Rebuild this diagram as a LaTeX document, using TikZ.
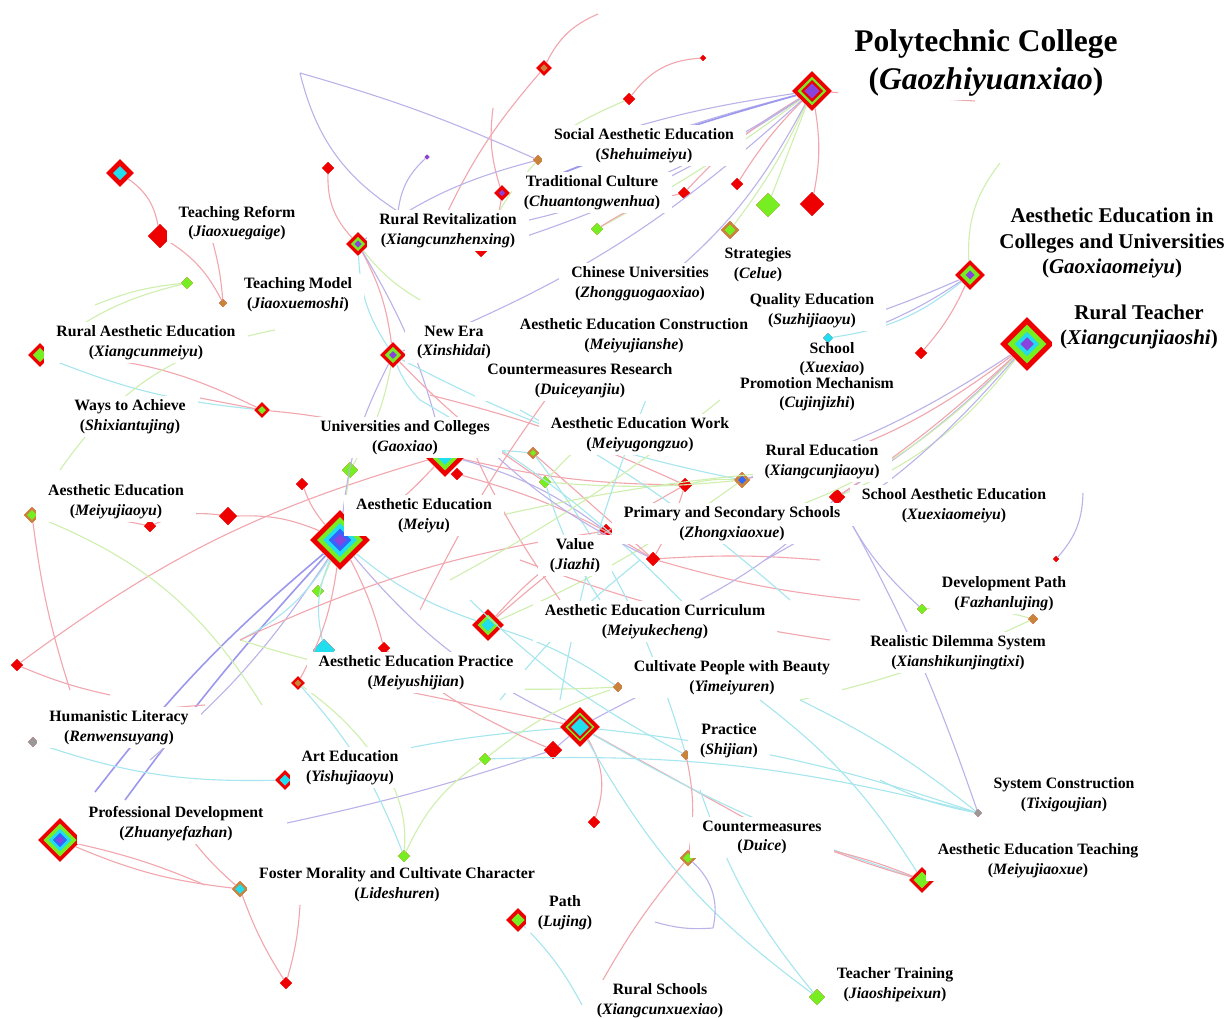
\documentclass[tikz,border=0pt]{standalone}
\usepackage{fontspec}
\setmainfont{Liberation Serif}
\usetikzlibrary{shapes.geometric}
\definecolor{kr}{HTML}{EE0000}
\definecolor{kg}{HTML}{77EE22}
\definecolor{kc}{HTML}{22DDEE}
\definecolor{kb}{HTML}{3366FF}
\definecolor{kp}{HTML}{8844DD}
\definecolor{ko}{HTML}{C8843A}
\definecolor{kgr}{HTML}{999999}
\definecolor{cer}{HTML}{F2A6AE}
\definecolor{cep}{HTML}{BBB2EA}
\definecolor{ceg}{HTML}{CFEFAE}
\definecolor{cec}{HTML}{A6E6EE}
\definecolor{ceb}{HTML}{9C98EE}
\tikzset{
  kwd/.style={diamond, inner sep=0pt, draw=none, fill=kr},
  lbl/.style={fill=white, inner xsep=12pt, inner ysep=3.5pt, align=center,
    font=\fontsize{15.8}{19.5}\selectfont\bfseries},
  lblb/.style={lbl, inner xsep=8pt, font=\fontsize{21}{25.5}\selectfont\bfseries},
  lblt/.style={lbl, inner xsep=16pt, font=\fontsize{31.5}{38}\selectfont\bfseries},
  tight/.style={inner ysep=0pt},
  er/.style={draw=cer, line width=1.1pt},
  ep/.style={draw=cep, line width=1.1pt},
  eg/.style={draw=ceg, line width=1.1pt},
  ec/.style={draw=cec, line width=1.1pt},
  eb/.style={draw=ceb, line width=1.6pt},
}
\newcommand\kwglyph[5]{%
  \node[kwd, minimum size=#4pt] (#1) at (#2,#3) {};
  \foreach \s/\c in {#5}{\pgfmathsetmacro\rr{#4*\s/2}%
    \fill[\c] (#2,#3) ++(0,\rr) -- ++(\rr,-\rr) -- ++(-\rr,-\rr) -- ++(-\rr,\rr) -- cycle;}}
\newcommand\kwlab[6][]{\node[lbl,#1] (#2) at (#3,#4) {#5\\(\textit{#6})};}
\begin{document}
\begin{tikzpicture}[x=1pt,y=-1pt]
\useasboundingbox (0,0) rectangle (1228,1017);
\fill[white] (0,0) rectangle (1228,1017);
% ---------- glyph nodes ----------
\kwglyph{P}{812}{91}{40}{0.72/kg,0.55/kr,0.38/kp}
\kwglyph{RT}{1027}{344}{54}{0.72/kg,0.45/kc,0.25/kp}
\kwglyph{AEC}{970}{275}{30}{0.66/kg,0.3/kp}
\kwglyph{M}{340}{540}{60}{0.76/kg,0.56/kc,0.38/kb,0.2/kp}
\kwglyph{G}{445}{455}{44}{0.7/kg,0.45/kc}
\kwglyph{C}{580}{727}{40}{0.72/kg,0.6/kr,0.45/kc}
\kwglyph{PD}{60}{840}{44}{0.75/kg,0.52/kc,0.32/kb,0.16/kp}
\kwglyph{CU}{488}{625}{32}{0.65/kg,0.4/kc}
\kwglyph{RR}{358}{244}{24}{0.6/kg,0.3/kp}
\kwglyph{NE}{393}{355}{26}{0.62/kg,0.3/kp}
\kwglyph{RA}{40}{355}{24}{0.6/kg}
\kwglyph{TR}{160}{236}{24}{1/kr}
\kwglyph{TT}{120}{173}{28}{0.5/kc}
\kwglyph{PA}{518}{920}{24}{0.55/kg}
\kwglyph{AT}{922}{880}{26}{0.65/kg}
\kwglyph{n1}{544}{68}{16}{0.45/ko}
\kwglyph{n2}{629}{99}{12}{1/kr}
\kwglyph{n4}{481}{251}{12}{1/kr}
\kwglyph{n5}{684}{193}{12}{1/kr}
\kwglyph{n6}{737}{184}{12}{1/kr}
\kwglyph{n7}{812}{204}{24}{1/kr}
\kwglyph{n8}{768}{205}{24}{1/kg}
\kwglyph{n9}{730}{230}{18}{1/ko,0.6/kg}
\kwglyph{n10}{597}{229}{12}{1/kg}
\kwglyph{n11}{427}{157}{5}{1/kp}
\kwglyph{n12}{538}{160}{10}{1/ko}
\kwglyph{n13}{703}{58}{6}{1/kr}
\kwglyph{n14}{502}{193}{16}{0.4/kp}
\kwglyph{n15}{328}{168}{12}{1/kr}
\kwglyph{n16}{187}{283}{12}{1/kg}
\kwglyph{n17}{223}{303}{8}{1/ko}
\kwglyph{n18}{921}{353}{12}{1/kr}
\kwglyph{n19}{828}{338}{10}{1/kc}
\kwglyph{n21}{262}{410}{16}{0.5/kg}
\kwglyph{n22}{350}{470}{16}{1/kg}
\kwglyph{n23}{302}{484}{12}{1/kr}
\kwglyph{n24}{228}{516}{18}{1/kr}
\kwglyph{n25}{150}{526}{12}{1/kr}
\kwglyph{n26}{32}{515}{16}{1/ko,0.6/kg}
\kwglyph{n27}{17}{665}{12}{1/kr}
\kwglyph{n28}{318}{591}{12}{1/kg}
\kwglyph{n29}{324}{650}{22}{1/kc}
\kwglyph{n30}{384}{648}{12}{1/kr}
\kwglyph{n31}{298}{683}{14}{0.5/ko}
\kwglyph{n32}{33}{742}{10}{1/kgr}
\kwglyph{n33}{285}{780}{20}{0.55/kc}
\kwglyph{n34}{240}{889}{16}{1/ko,0.6/kc}
\kwglyph{n35}{286}{983}{12}{1/kr}
\kwglyph{n36}{404}{856}{12}{1/kg}
\kwglyph{n37}{485}{759}{12}{1/kg}
\kwglyph{n38}{553}{750}{18}{1/kr}
\kwglyph{n39}{594}{822}{12}{1/kr}
\kwglyph{n41}{688}{858}{16}{1/ko,0.6/kg}
\kwglyph{n42}{686}{755}{10}{1/ko}
\kwglyph{n43}{618}{687}{10}{1/ko}
\kwglyph{n44}{817}{997}{16}{1/kg}
\kwglyph{n45}{545}{482}{12}{1/kg}
\kwglyph{n46}{533}{453}{12}{1/ko,0.5/kg}
\kwglyph{n47}{685}{485}{14}{1/kr}
\kwglyph{n48}{653}{559}{14}{1/kr}
\kwglyph{n49}{742}{480}{16}{1/ko,0.5/kb}
\kwglyph{n50}{606}{531}{14}{1/kr}
\kwglyph{n51}{837}{497}{16}{1/kr}
\kwglyph{n52}{1056}{559}{6}{1/kr}
\kwglyph{n53}{1033}{619}{10}{1/ko}
\kwglyph{n54}{922}{609}{10}{1/kg}
\kwglyph{n55}{978}{813}{8}{1/kgr}
\kwglyph{n56}{457}{474}{12}{1/kr}
% ---------- free ends ----------
\coordinate (t1) at (598,14);
\coordinate (c1) at (440,228);
\coordinate (c2) at (548,142);
\coordinate (c3) at (545,180);
\coordinate (c4) at (640,300);
\coordinate (pr) at (975,101);
\coordinate (v1) at (300,73);
\coordinate (v2) at (402,214);
\coordinate (c5) at (398,212);
\coordinate (c6) at (493,108);
\coordinate (c9) at (213,243);
\coordinate (c10) at (95,305);
\coordinate (c11) at (420,300);
\coordinate (c12) at (200,398);
\coordinate (c13) at (110,695);
\coordinate (lb1) at (95,792);
\coordinate (lb2) at (125,800);
\coordinate (c14) at (150,760);
\coordinate (c15) at (70,690);
\coordinate (c16) at (262,705);
\coordinate (c17) at (60,470);
\coordinate (c18) at (275,330);
\coordinate (c19) at (205,885);
\coordinate (c20) at (300,905);
\coordinate (c21) at (185,830);
\coordinate (c22) at (205,705);
\coordinate (c23) at (287,823);
\coordinate (c24) at (720,662);
\coordinate (c27) at (400,690);
\coordinate (c28) at (770,832);
\coordinate (c29) at (395,790);
\coordinate (c30) at (610,690);
\coordinate (c31) at (700,535);
\coordinate (c32) at (765,560);
\coordinate (c33) at (880,325);
\coordinate (c33b) at (870,315);
\coordinate (ga) at (1000,163);
\coordinate (dp) at (1083,493);
\coordinate (c34) at (830,850);
\coordinate (sh1) at (655,922);
\coordinate (sh2) at (713,928);
\coordinate (rs) at (600,985);
\coordinate (pb) at (582,1005);
\coordinate (c35) at (700,790);
\coordinate (c36) at (800,700);
\coordinate (c37) at (760,700);
\coordinate (c38) at (820,560);
\coordinate (c39) at (420,400);
\coordinate (c40) at (700,620);
\coordinate (c41) at (520,560);
\coordinate (c42) at (830,640);
\coordinate (c43) at (470,600);
\coordinate (c44) at (240,640);
\coordinate (c45) at (620,420);
\coordinate (c46) at (880,780);
\coordinate (c47) at (430,395);
\coordinate (c48) at (600,600);
\coordinate (c49) at (480,520);
\coordinate (c50) at (800,470);
\coordinate (c51) at (420,610);
\coordinate (c52) at (560,380);
\coordinate (c53) at (460,420);
\coordinate (c54) at (560,600);
\coordinate (c55) at (500,700);
\coordinate (c56) at (640,560);
\coordinate (c57) at (860,600);
\coordinate (c58) at (650,390);
\coordinate (c59) at (560,700);
\coordinate (c60) at (700,600);
\coordinate (c61) at (520,410);
\coordinate (c62) at (790,600);
\coordinate (c63) at (450,580);
\coordinate (c64) at (720,400);
% ---------- connectors ----------
\begin{scope}
\draw[er] (t1) to[bend right=20] (n1);
\draw[er] (n1) to[bend right=8] (c1);
\draw[er] (n13) to[bend right=25] (n2);
\draw[eg] (n2) to[bend right=5] (c2);
\draw[ep] (P) to[bend right=6] (n12);
\draw[ep] (P) to[bend right=4] (c3);
\draw[ep] (P) to[bend left=8] (n4);
\draw[eg] (P) to[bend left=4] (n10);
\draw[eg] (P) to[bend left=6] (n9);
\draw[eg] (P) to (n8);
\draw[er] (P) to[bend left=10] (n7);
\draw[er] (P) to[bend right=6] (n6);
\draw[er] (P) to[bend right=8] (n5);
\draw[ep] (P) to[bend left=12] (c4);
\draw[ep] (P) to[bend left=14] (RR);
\draw[ep] (P) to[bend left=10] (NE);
\draw[eb] (P) to[bend right=3] (c3);
\draw[er] (P) to (pr);
\draw[ep] (v1) to[bend left=4] (n12);
\draw[ep] (v1) to[bend right=22] (v2);
\draw[ep] (n11) to[bend right=20] (c5);
\draw[er] (c6) to[bend right=12] (n14);
\draw[er] (n14) to[bend left=12] (n4);
\draw[ep] (RR) to[bend left=10] (n12);
\draw[er] (n10) to[bend left=10] (n5);
\draw[eg] (n12) to[bend right=10] (n4);
% left top
\draw[er] (TT) to[bend left=22] (TR);
\draw[er] (TR) to[bend left=15] (n17);
\draw[er] (c9) to[bend left=5] (n17);
\draw[er] (n15) to[bend right=22] (RR);
\draw[eg] (n16) to[bend right=12] (RA);
\draw[eg] (n16) to[bend right=8] (c10);
\draw[er] (RR) to[bend left=10] (NE);
\draw[ep] (RR) to[bend left=8] (G);
\draw[eg] (RR) to[bend right=10] (c11);
\draw[ec] (RR) to[bend right=15] (NE);
% left middle
\draw[ec] (RA) to[bend right=8] (n21);
\draw[er] (RA) to[bend left=12] (n21);
\draw[er] (c12) to (n21);
\draw[er] (n21) to[bend left=8] (G);
\draw[er] (n27) to[bend left=10] (G);
\draw[er] (n27) to[bend right=5] (c13);
\draw[er] (n25) to[bend left=15] (n24);
\draw[er] (n24) to[bend left=12] (M);
\draw[er] (n23) to[bend right=10] (M);
\draw[eg] (n22) to (M);
\draw[eg] (n28) to (M);
\draw[eb] (M) to[bend right=6] (lb1);
\draw[eb] (M) to[bend right=3] (lb2);
\draw[ep] (M) to[bend left=8] (c14);
\draw[er] (n26) to[bend right=5] (c15);
\draw[eg] (n26) to[bend left=18] (c16);
\draw[er] (n26) to[bend left=6] (n25);
\draw[eg] (c17) to[bend left=22] (c18);
\draw[er] (M) to[bend right=8] (G);
\draw[ep] (M) to[bend left=10] (NE);
\draw[ec] (M) to[bend right=10] (CU);
\draw[ep] (M) to[bend right=12] (C);
\draw[er] (M) to[bend left=6] (n30);
\draw[ec] (M) to[bend right=18] (n29);
\draw[ec] (M) to[bend left=15] (c44);
\draw[er] (M) to[bend left=10] (n31);
\draw[eg] (NE) to[bend left=10] (n22);
\draw[ec] (NE) to[bend right=10] (c39);
% bottom left
\draw[er] (PD) to[bend left=5] (c19);
\draw[er] (PD) to[bend right=8] (n34);
\draw[er] (n35) to[bend left=6] (n34);
\draw[er] (n35) to[bend right=6] (c20);
\draw[er] (n34) to[bend left=6] (c21);
\draw[er] (n32) to[bend left=8] (c22);
\draw[ec] (n33) to[bend left=6] (C);
\draw[ep] (c23) to[bend right=3] (n38);
\draw[ep] (n38) to (C);
\draw[ep] (C) to[bend left=4] (c24);
\draw[ec] (n32) to[bend right=10] (n33);
\draw[ec] (n31) to[bend left=10] (n36);
\draw[eg] (n31) to[bend left=12] (c29);
% center
\draw[er] (C) to[bend left=25] (n39);
\draw[er] (c27) to (C);
\draw[er] (C) to (c28);
\draw[eg] (n37) to[bend left=10] (c30);
\draw[eg] (n36) to[bend right=12] (c29);
\draw[ec] (C) to[bend left=6] (n55);
\draw[ec] (C) to[bend right=6] (AT);
\draw[ec] (C) to[bend right=12] (n44);
\draw[ec] (n37) to[bend left=8] (n55);
\draw[eg] (n37) to[bend right=15] (n36);
\draw[er] (n30) to[bend right=8] (n38);
\draw[ec] (CU) to[bend left=8] (n43);
\draw[er] (CU) to[bend left=6] (n47);
\draw[eg] (CU) to[bend right=6] (n49);
\draw[er] (G) to[bend right=6] (n47);
\draw[er] (n46) to (n48);
\draw[eg] (n45) to[bend right=5] (n49);
\draw[ec] (NE) to[bend right=8] (n49);
\draw[er] (n48) to[bend left=4] (c38);
\draw[ec] (c39) to[bend left=8] (c40);
\draw[er] (c41) to[bend right=6] (c42);
\draw[ep] (G) to[bend left=10] (n50);
\draw[ec] (c43) to[bend right=8] (n42);
\draw[eg] (n45) to[bend left=10] (c45);
\draw[er] (n56) to[bend left=8] (n48);
\draw[ec] (n46) to[bend left=10] (n42);
\draw[eg] (c44) to[bend right=10] (n43);
\draw[er] (c44) to[bend left=8] (n50);
\draw[er] (c47) to[bend left=5] (n47);
\draw[er] (NE) to[bend right=6] (n45);
\draw[ec] (G) to[bend left=6] (n46);
\draw[ec] (n45) to[bend right=8] (c48);
\draw[eg] (c49) to[bend left=4] (c50);
\draw[eg] (n49) to[bend right=8] (n47);
\draw[er] (n47) to[bend left=6] (n48);
\draw[er] (c51) to[bend left=5] (c52);
\draw[er] (c53) to[bend right=6] (c54);
\draw[ec] (c55) to[bend left=6] (c56);
\draw[er] (n48) to[bend right=5] (c57);
\draw[er] (n50) to[bend right=10] (CU);
\draw[ec] (c58) to[bend right=6] (c59);
\draw[ep] (c60) to[bend right=8] (n51);
\draw[ec] (c61) to[bend left=6] (c62);
\draw[eg] (c63) to[bend right=5] (c64);
\draw[ep] (c53) to[bend right=10] (n48);
% right
\draw[er] (RT) to[bend left=12] (n49);
\draw[ep] (RT) to[bend left=8] (n49);
\draw[eg] (RT) to[bend left=14] (n51);
\draw[ep] (RT) to[bend left=6] (n51);
\draw[eg] (RT) to[bend left=16] (c31);
\draw[ep] (RT) to[bend left=10] (c32);
\draw[er] (RT) to[bend left=4] (n51);
\draw[ep] (AEC) to[bend left=5] (c33);
\draw[ep] (AEC) to[bend left=2] (c33b);
\draw[ec] (AEC) to[bend left=15] (n19);
\draw[eg] (AEC) to[bend left=20] (ga);
\draw[er] (AEC) to[bend left=8] (n18);
\draw[ep] (n51) to[bend left=5] (n55);
\draw[ep] (n52) to[bend right=20] (dp);
\draw[eg] (n53) to[bend right=10] (n54);
\draw[eg] (n53) to[bend left=6] (c36);
\draw[er] (AT) to[bend right=4] (c34);
\draw[er] (AT) to[bend left=2] (c34);
\draw[ec] (n55) to[bend right=6] (c36);
\draw[ec] (AT) to[bend right=10] (c37);
\draw[ec] (n44) to[bend left=10] (c35);
\draw[ec] (n55) to[bend left=8] (c46);
\draw[ep] (n54) to[bend left=10] (n51);
% bottom
\draw[ep] (n41) to[bend left=30] (sh2);
\draw[ep] (sh2) to[bend left=10] (sh1);
\draw[er] (n41) to[bend right=5] (rs);
\draw[ec] (PA) to[bend left=8] (pb);
\draw[er] (n42) to[bend left=10] (n41);
\end{scope}
% ---------- labels ----------
\node[lblt] (Lt) at (986,63) {Polytechnic College\\(\textit{Gaozhiyuanxiao})};
\node[lblb] (Laec) at (1112,243) {Aesthetic Education in\\Colleges and Universities\\(\textit{Gaoxiaomeiyu})};
\node[lblb] (Lrt) at (1139,327) {Rural Teacher\\(\textit{Xiangcunjiaoshi})};
\kwlab{L1}{644}{145.5}{Social Aesthetic Education}{Shehuimeiyu}
\kwlab{L2}{592}{192.5}{Traditional Culture}{Chuantongwenhua}
\kwlab{L3}{237}{223}{Teaching Reform}{Jiaoxuegaige}
\kwlab{L4}{448}{230.5}{Rural Revitalization}{Xiangcunzhenxing}
\kwlab{L5}{758}{264.5}{Strategies}{Celue}
\kwlab{L6}{640}{283.5}{Chinese Universities}{Zhongguogaoxiao}
\kwlab{L7}{298}{294.5}{Teaching Model}{Jiaoxuemoshi}
\kwlab{L8}{812}{310.5}{Quality Education}{Suzhijiaoyu}
\kwlab{L9}{146}{342.5}{Rural Aesthetic Education}{Xiangcunmeiyu}
\kwlab{L10}{454}{342.5}{New Era}{Xinshidai}
\kwlab{L11}{634}{335.5}{Aesthetic Education Construction}{Meiyujianshe}
\kwlab[tight]{L12}{832}{359}{School}{Xuexiao}
\kwlab[tight]{L14}{817}{394}{Promotion Mechanism}{Cujinjizhi}
\kwlab{L13}{580}{380.5}{Countermeasures Research}{Duiceyanjiu}
\kwlab{L15}{130}{416.5}{Ways to Achieve}{Shixiantujing}
\kwlab{L16}{405}{437.5}{Universities and Colleges}{Gaoxiao}
\kwlab{L17}{640}{434.5}{Aesthetic Education Work}{Meiyugongzuo}
\kwlab{L18}{822}{461.5}{Rural Education}{Xiangcunjiaoyu}
\kwlab{L19}{116}{501.5}{Aesthetic Education}{Meiyujiaoyu}
\kwlab{L20}{954}{505.5}{School Aesthetic Education}{Xuexiaomeiyu}
\kwlab{L21}{424}{515.5}{Aesthetic Education}{Meiyu}
\kwlab{L22}{732}{523.5}{Primary and Secondary Schools}{Zhongxiaoxue}
\kwlab{L23}{575}{555.5}{Value}{Jiazhi}
\kwlab{L24}{1004}{593.5}{Development Path}{Fazhanlujing}
\kwlab{L25}{655}{621.5}{Aesthetic Education Curriculum}{Meiyukecheng}
\kwlab{L26}{958}{652.5}{Realistic Dilemma System}{Xianshikunjingtixi}
\kwlab{L27}{416}{672.5}{Aesthetic Education Practice}{Meiyushijian}
\kwlab{L28}{732}{677.5}{Cultivate People with Beauty}{Yimeiyuren}
\kwlab{L29}{119}{727.5}{Humanistic Literacy}{Renwensuyang}
\kwlab{L30}{729}{740.5}{Practice}{Shijian}
\kwlab{L31}{350}{767.5}{Art Education}{Yishujiaoyu}
\kwlab{L32}{1064}{794.5}{System Construction}{Tixigoujian}
\kwlab{L33}{176}{823.5}{Professional Development}{Zhuanyefazhan}
\kwlab{L34}{762}{837.5}{Countermeasures}{Duice}
\kwlab{L35}{1038}{860.5}{Aesthetic Education Teaching}{Meiyujiaoxue}
\kwlab{L36}{397}{884.5}{Foster Morality and Cultivate Character}{Lideshuren}
\kwlab{L37}{565}{912.5}{Path}{Lujing}
\kwlab{L38}{660}{1000.5}{Rural Schools}{Xiangcunxuexiao}
\kwlab{L39}{895}{984.5}{Teacher Training}{Jiaoshipeixun}
\end{tikzpicture}
\end{document}
